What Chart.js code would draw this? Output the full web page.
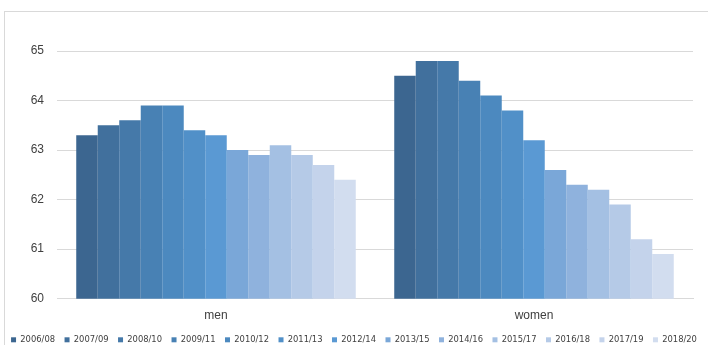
<!DOCTYPE html>
<html>
<head>
<meta charset="utf-8">
<script src="https://cdn.jsdelivr.net/npm/chart.js@4/dist/chart.umd.min.js"></script>
<style>
  html, body { margin: 0; padding: 0; background: #ffffff; }
  #frame {
    position: absolute; left: 4px; top: 11px; width: 720px; height: 350px;
    border-left: 1px solid #d9d9d9; border-top: 1px solid #d9d9d9;
  }
  #wrap { position: absolute; left: 0; top: 0; width: 708px; height: 345px; }
</style>
</head>
<body>
<div id="frame"></div>
<div id="wrap"><canvas id="chart" width="708" height="345"></canvas></div>
<script>
// Groups on the x axis
const categories = ['men', 'women'];

// Survey periods, one series each
const periods = ['2006/08', '2007/09', '2008/10', '2009/11', '2010/12', '2011/13', '2012/14',
                 '2013/15', '2014/16', '2015/17', '2016/18', '2017/19', '2018/20'];

// Values per period: [men, women]
const menValues   = [63.3, 63.5, 63.6, 63.9, 63.9, 63.4, 63.3, 63.0, 62.9, 63.1, 62.9, 62.7, 62.4];
const womenValues = [64.5, 64.8, 64.8, 64.4, 64.1, 63.8, 63.2, 62.6, 62.3, 62.2, 61.9, 61.2, 60.9];

// Y axis tick values
const yTicks = [60, 61, 62, 63, 64, 65];

// Blue ramp from dark to pale, one shade per period
const shades = ['#3c6690', '#41709d', '#4579a9', '#4881b4', '#4c89bf', '#5190c8', '#5a99d3',
                '#7aa7d8', '#8fb2dd', '#a4c0e3', '#b5cae7', '#c4d3eb', '#d2ddef'];

const datasets = periods.map((p, i) => ({
  label: p,
  data: [menValues[i], womenValues[i]],
  backgroundColor: shades[i],
  borderWidth: 0,
  categoryPercentage: 0.879,
  barPercentage: 1.0
}));

new Chart(document.getElementById('chart'), {
  type: 'bar',
  data: { labels: categories, datasets },
  options: {
    responsive: false,
    animation: false,
    layout: { padding: { left: 0, right: 0, top: 51, bottom: -9 } },
    scales: {
      x: {
        afterFit: (axis) => { axis.height -= 7; },
        grid: { display: false, drawTicks: false },
        border: { color: '#d9d9d9', width: 1 },
        ticks: { color: '#404040', font: { family: 'Liberation Sans', size: 12 }, padding: 10 }
      },
      y: {
        min: 60, max: 65,
        afterBuildTicks: (axis) => { axis.ticks = yTicks.map(v => ({ value: v })); },
        afterFit: (axis) => { axis.width = 57; },
        grid: { color: '#d9d9d9', drawTicks: false },
        border: { display: false },
        ticks: { color: '#404040', font: { family: 'Liberation Sans', size: 12 }, padding: 13 }
      },
      // empty right-hand margin so the plot ends before the canvas edge
      yRight: {
        position: 'right',
        display: true,
        min: 60, max: 65,
        afterFit: (axis) => { axis.width = 15; },
        grid: { display: false, drawTicks: false },
        border: { display: false },
        ticks: { display: false }
      }
    },
    plugins: {
      legend: {
        position: 'bottom',
        labels: {
          boxWidth: 5, boxHeight: 5,
          padding: 9.5,
          color: '#404040',
          font: { family: 'DejaVu Sans', size: 8.4 }
        }
      },
      tooltip: { enabled: false }
    }
  }
});
</script>
</body>
</html>
